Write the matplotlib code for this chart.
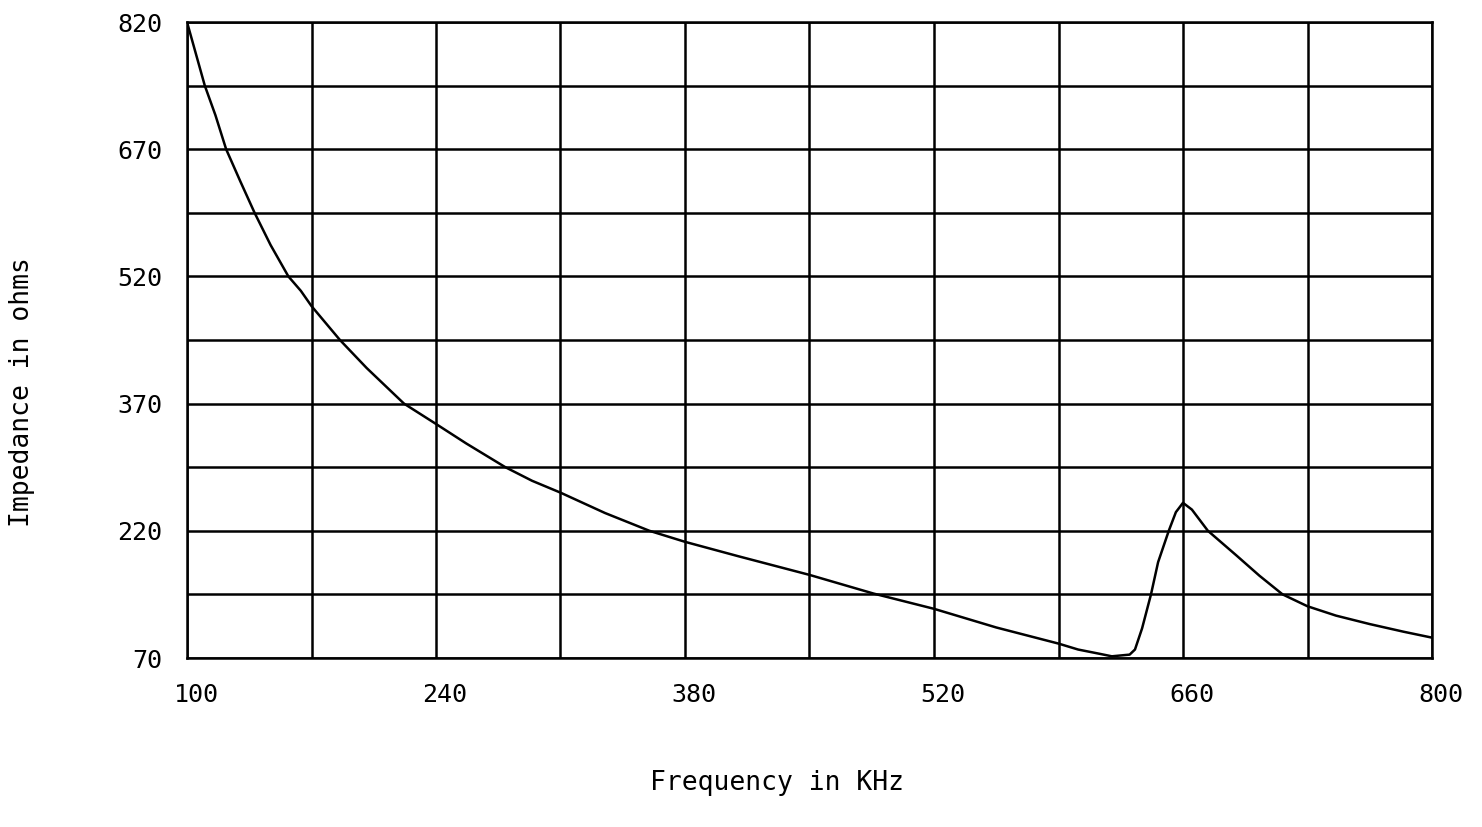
import numpy as np
import matplotlib
matplotlib.use("Agg")
import matplotlib.pyplot as plt
import matplotlib.transforms as mtransforms

# Impedance curve (kHz, ohms)
frekvens = [100, 110, 116, 122, 130, 138, 147, 157, 164, 170, 186, 201, 222,
            240, 257, 279, 294, 310, 335, 360, 380, 410, 450, 486, 520, 555,
            590, 601, 613, 620, 630, 633, 637, 642, 646, 652, 656, 660, 665,
            674, 690, 703, 716, 730, 746, 765, 784, 800]
impedans = [820, 745, 710, 670, 632, 595, 557, 520, 503, 485, 445, 412, 370,
            346, 323, 295, 279, 265, 241, 220, 207, 190, 168, 146, 128, 106,
            87, 80, 75, 72, 74, 80, 105, 145, 183, 220, 242, 253, 245,
            220, 191, 167, 145, 131, 120, 110, 101, 94]

x_ticks = [100, 240, 380, 520, 660, 800]
y_ticks = [70, 220, 370, 520, 670, 820]
x_grid = np.arange(100, 801, 70)
y_grid = np.arange(70, 821, 75)

font = 'DejaVu Sans Mono'

fig = plt.figure(figsize=(14.82, 8.27), dpi=100)
ax = fig.add_axes([187/1482, 169/827, 1245/1482, 636/827])

# rutenett
for gx in x_grid:
    ax.axvline(gx, color='black', linewidth=1.8, zorder=1)
for gy in y_grid:
    ax.axhline(gy, color='black', linewidth=1.8, zorder=1)

ax.plot(frekvens, impedans, color='black', linewidth=1.8, zorder=2)

ax.set_xlim(100, 800)
ax.set_ylim(70, 820)
ax.set_xticks(x_ticks)
ax.set_yticks(y_ticks)
ax.set_xticklabels([str(t) for t in x_ticks], family=font, fontsize=18)
ax.set_yticklabels([str(t) for t in y_ticks], family=font, fontsize=18)
ax.tick_params(length=0)
ax.tick_params(axis='x', pad=18)
ax.tick_params(axis='y', pad=18)
for s in ax.spines.values():
    s.set_linewidth(1.8)

# flytt x-etikettene litt til hoyre
offset = mtransforms.ScaledTranslation(0.09, 0, fig.dpi_scale_trans)
for lab in ax.get_xticklabels():
    lab.set_transform(lab.get_transform() + offset)

fig.text(777/1482, 1 - 783/827, "Frequency in KHz", ha='center', va='center',
         fontsize=19, family=font)
fig.text(22/1482, 1 - 392/827, "Impedance in ohms", ha='center', va='center',
         rotation=90, fontsize=19, family=font)

fig.savefig("out.png", dpi=100)
